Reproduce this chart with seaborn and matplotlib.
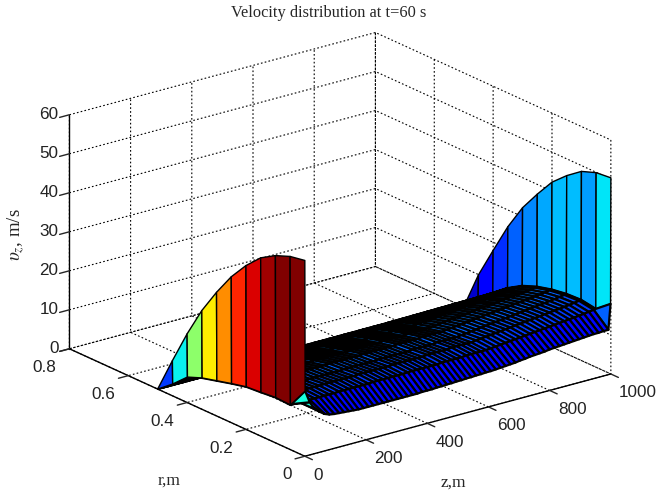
import numpy as np
import matplotlib
matplotlib.use("Agg")
import matplotlib.pyplot as plt
from mpl_toolkits.mplot3d import proj3d
import seaborn as sns

# radial nodes, wall to axis
r_nodes = [0.5, 0.45, 0.4, 0.35, 0.3, 0.25, 0.2, 0.15, 0.1, 0.05, 0.0]

z_nodes = [0, 1, 16, 32, 48, 64, 80, 96, 112, 128, 144, 160, 176, 192, 208, 224, 240,
           256, 272, 288, 304, 320, 336, 352, 368, 384, 400, 416, 432, 448, 464, 480,
           496, 512, 528, 544, 560, 576, 592, 608, 624, 640, 656, 672, 688, 704, 720,
           736, 752, 768, 784, 800, 816, 832, 848, 864, 880, 896, 912, 928, 944, 960,
           976, 992, 999, 1000]

# velocity
inlet_profile = [0, 9, 17.6, 25.3, 31.7, 37.4, 42, 45.7, 48, 49.5, 50.2]
outlet_profile = [0, 9.9, 17.9, 25.7, 32.3, 37.5, 42.3, 45.7, 48.5, 49.9, 50.3]

# low speed core, near the inlet and near the outlet (without the axis node)
core_near_inlet = [0, 3, 6.5, 8, 9, 10, 10.9, 11.2, 11.6, 11.4]
core_near_outlet = [0.5, 3.5, 7, 10, 12.3, 13.8, 14.8, 15.4, 15.6, 15]

# how far each column has moved from the inlet shape to the outlet shape
core_mix = [0, 0, 0, 0, 0, 0, 0, 0, 0, 0, 0,
            .02, .02, .02, .02, .02, .02, .02,
            .05, .05, .05, .05, .05, .05, .05,
            .08, .08, .08, .08, .08, .08, .08,
            .12, .12, .12, .12, .12,
            .16, .16, .16, .16, .16,
            .20, .23, .27, .30, .34, .37, .41, .44, .48, .51, .55, .58, .62, .65,
            .69, .72, .76, .79, .83, .87, .92, .97, 1, 1]

# speed on the axis, one value per column
axis_speed = [50.2, 16.7, 13.5, 11.4, 10.4, 9.5, 9, 8.8, 8.7, 8.6, 8.5, 8.4,
              8.3, 8.3, 8.3, 8.3, 8.3, 8.3, 8.3, 8.3, 8.3, 8.3, 8.3, 8.3, 8.3,
              8.4, 8.4, 8.4, 8.5, 8.5, 8.6, 8.6, 8.7, 8.7, 8.8, 8.8, 8.9, 8.9, 9.0, 9.0,
              9.1, 9.2, 9.3, 9.4, 9.5, 9.7, 9.8, 10.0, 10.1, 10.2, 10.3, 10.5, 10.6, 10.7,
              10.8, 10.9, 11.0, 11.1, 11.2, 11.3, 11.4, 11.4, 11.5, 11.5, 18, 50.3]

# jet positions of the facets
inlet_shade = [.18, .36, .52, .66, .76, .87, .92, .97, 1, 1]
outlet_shade = [.07, .11, .17, .22, .26, .29, .31, .31, .28, .35]
core_shade = [.30, .30, .28, .27, .25, .24, .22, .20, .18, .13]

z_ticks = [0, 200, 400, 600, 800, 1000]
r_ticks = [0, 0.2, 0.4, 0.6, 0.8]
v_ticks = [0, 10, 20, 30, 40, 50, 60]

sns.set_theme(style="white")
plt.rcParams["font.family"] = ["Liberation Sans", "DejaVu Sans"]
plt.rcParams["mathtext.fontset"] = "stix"

# build the surface
Z, R = np.meshgrid(z_nodes, r_nodes)
mix = np.array(core_mix)[None, :]
V = np.zeros(Z.shape)
V[:-1, :] = (1 - mix) * np.array(core_near_inlet)[:, None] + mix * np.array(core_near_outlet)[:, None]
V[-1, :] = axis_speed
V[:, 0] = inlet_profile
V[:, -1] = outlet_profile

cmap = plt.get_cmap("jet")
shade = np.tile(np.array(core_shade)[:, None], (1, len(z_nodes) - 1))
shade[:, 0] = inlet_shade
shade[:, -1] = outlet_shade
shade[-1, -2] = .22
shade[-1, 1:3] = .38
colors = cmap(shade)

fig = plt.figure(figsize=(6.58, 4.90), dpi=100)
ax = fig.add_axes([4.5 / 658, -6 / 490, 1, 1], projection="3d", proj_type="ortho")
ax.view_init(elev=20.5, azim=-127.5)
ax.set_box_aspect((386, 387, 250), zoom=1.19)
ax.computed_zorder = False


def draw_part(first, last, width, order):
    # columns first..last of the grid as one surface
    part = ax.plot_surface(Z[:, first:last + 1], R[:, first:last + 1], V[:, first:last + 1],
                           facecolors=colors[:, first:last], rstride=1, cstride=1,
                           shade=False, linewidth=width, antialiased=True, zorder=order)
    part.set_edgecolor("black")
    part.set_clip_on(False)


n_col = len(z_nodes)
draw_part(n_col - 2, n_col - 1, 1.0, 2)
draw_part(1, n_col - 2, 1.6, 3)
draw_part(0, 1, 1.0, 4)

ax.set_xlim(0, 1000)
ax.set_ylim(0, 0.8)
ax.set_zlim(0, 60)
ax.set_xticks(z_ticks)
ax.set_yticks(r_ticks)
ax.set_zticks(v_ticks)

for axis in (ax.xaxis, ax.yaxis, ax.zaxis):
    axis.set_tick_params(label1On=False, label2On=False)
    axis.set_pane_color((1, 1, 1, 0))
    axis.pane.set_edgecolor((1, 1, 1, 0))
    axis.line.set_color("black")
    axis.line.set_linewidth(1.0)
    axis._axinfo["grid"].update(color="black", linestyle=(0, (1.5, 2)), linewidth=0.8)
    axis._axinfo["tick"].update(inward_factor=0.4, outward_factor=0.0)
    axis._axinfo["tick"]["linewidth"] = {True: 1.0, False: 0.8}


def tick_text(x, y, z, label, ha):
    # tick labels placed by hand, mplot3d pushes them too far out
    px, py, _ = proj3d.proj_transform(x, y, z, ax.get_proj())
    ax.text2D(px, py, label, transform=ax.transData, ha=ha, va="center",
              fontsize=12.3, color="#222222")


for t in z_ticks:
    tick_text(t, -0.028, -3.9, str(t), "left")
for t in r_ticks:
    tick_text(-42, t, -3.9, str(t), "right")
for t in v_ticks:
    tick_text(-11.6, 0.8253, t - 0.6, str(t), "right")

fig.text(329 / 658, 1 - 13 / 490, "Velocity distribution at t=60 s", ha="center", va="center",
         family="Liberation Serif", fontsize=11.8)
fig.text(169 / 658, 1 - 481 / 490, "r,m", ha="center", va="center", family="Liberation Serif", fontsize=12.5)
fig.text(453 / 658, 1 - 483 / 490, "z,m", ha="center", va="center", family="Liberation Serif", fontsize=12.5)
fig.text(16 / 658, 1 - 235 / 490, r"$\upsilon_{z}$, m/s", rotation=90, ha="center", va="center",
         family="Liberation Serif", fontsize=13.5)

fig.savefig("out.png", dpi=100)
